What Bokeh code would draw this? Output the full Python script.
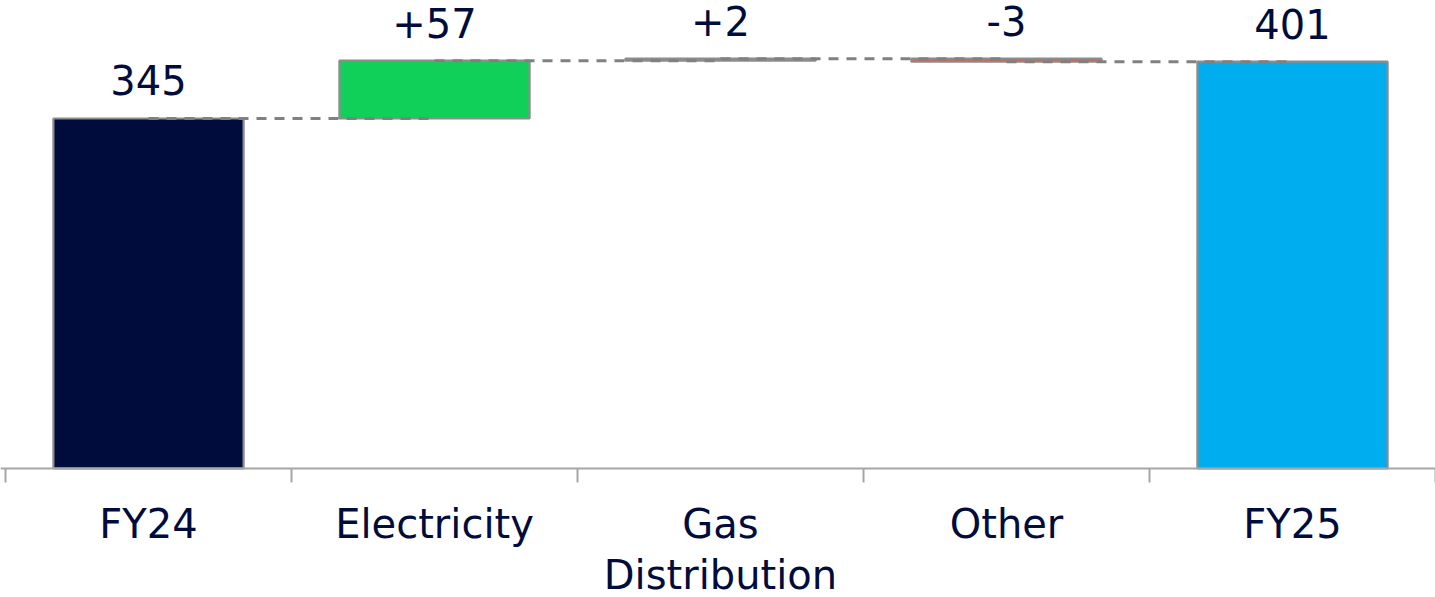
import numpy as np
from bokeh.plotting import figure
from bokeh.models import ColumnDataSource, Range1d, Span
from bokeh.core.properties import value
from bokeh.embed import file_html
from bokeh.resources import INLINE

# ---- data ----
categories = ["FY24", "Electricity", "Gas\nDistribution", "Other", "FY25"]
values = [345, 57, 2, -3, 401]
is_total = [True, False, False, False, True]
labels = ["345", "+57", "+2", "-3", "401"]
colors = ["#000C3C", "#10D05A", "#10D05A", "#E8553A", "#00AEEF"]

FONT = "DejaVu Sans"
TEXT_COLOR = "#000C3C"
AXIS_COLOR = "#A6A6A6"

# ---- waterfall geometry from data ----
bottoms, tops = [], []
running = 0
for v, tot in zip(values, is_total):
    if tot:
        bottoms.append(0)
        tops.append(v)
        running = v
    else:
        bottoms.append(running)
        running += v
        tops.append(running)

n = len(categories)
xs = np.arange(n) + 0.5
label_y = [max(b, t) for b, t in zip(bottoms, tops)]

src = ColumnDataSource(dict(x=xs, bottom=bottoms, top=tops, color=colors,
                            label=labels, ly=label_y))
cat_src = ColumnDataSource(dict(x=xs, y=[0] * n, text=categories))
tick_src = ColumnDataSource(dict(x=np.arange(n + 1), y=[0] * (n + 1)))

# connectors: from centre of bar i to centre of bar i+1 at the end level of bar i
csrc = ColumnDataSource(dict(x0=xs[:-1], x1=xs[1:], y0=tops[:-1], y1=tops[:-1]))

p = figure(width=1435, height=597, output_backend="svg", toolbar_location=None,
           x_range=Range1d(-0.0175, n), y_range=Range1d(-127.2, 461.3),
           min_border=0, x_axis_location=None, y_axis_location=None)
p.outline_line_color = None
p.xgrid.visible = False
p.ygrid.visible = False
p.background_fill_color = "white"

p.vbar(x="x", bottom="bottom", top="top", width=0.665, fill_color="color",
       line_color="#8C8C8C", line_width=2.2, source=src)

p.segment(x0="x0", y0="y0", x1="x1", y1="y1", source=csrc,
          line_color="#808080", line_width=3, line_dash="10 8")

# value labels
p.text(x="x", y="ly", text="label", source=src, text_align="center",
       text_baseline="alphabetic", y_offset=-38,
       text_font=value(FONT), text_font_size="40px", text_color=TEXT_COLOR)

# category axis: baseline, boundary ticks, category labels
p.add_layout(Span(location=0, dimension="width", line_color=AXIS_COLOR, line_width=2))
p.ray(x="x", y="y", source=tick_src, length=14, length_units="screen",
      angle=-np.pi / 2, line_color=AXIS_COLOR, line_width=2)
p.text(x="x", y="y", text="text", source=cat_src, text_align="center",
       text_baseline="top", y_offset=33, text_line_height=1.09,
       text_font=value(FONT), text_font_size="40px", text_color=TEXT_COLOR)

open("out.html", "w").write(file_html(p, INLINE))
